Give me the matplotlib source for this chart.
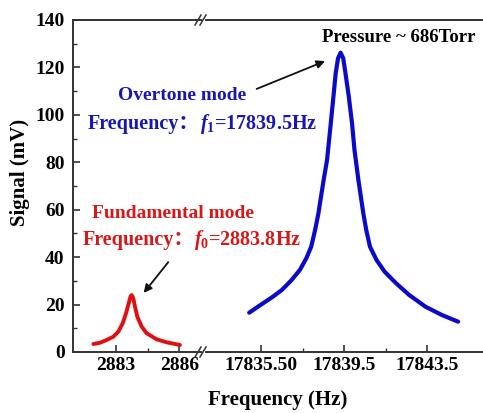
import matplotlib
matplotlib.use("Agg")
import matplotlib.pyplot as plt
from matplotlib.lines import Line2D
from matplotlib.ticker import MultipleLocator, FixedLocator

plt.rcParams['font.family'] = ['Liberation Serif', 'Noto Sans CJK SC']
plt.rcParams['font.weight'] = 'bold'
plt.rcParams['mathtext.fontset'] = 'custom'
plt.rcParams['mathtext.it'] = 'Liberation Serif:italic:bold'
plt.rcParams['mathtext.rm'] = 'Liberation Serif:bold'

# fundamental mode
f_fund = [2881.925, 2882.242, 2882.559, 2882.872, 2883.109, 2883.317,
          2883.474, 2883.602, 2883.696, 2883.744, 2883.820, 2883.900,
          2884.009, 2884.217, 2884.454, 2884.928, 2885.402, 2886.032]
s_fund = [3.37, 3.92, 5.06, 6.45, 8.56, 12.10,
          16.32, 20.54, 23.6, 24.0, 22.6, 19.1,
          14.9, 10.7, 7.9, 5.35, 4.09, 2.95]

# overtone mode
f_over = [17834.935, 17835.406, 17836.032, 17836.502, 17836.973, 17837.368,
          17837.679, 17837.914, 17838.102, 17838.262, 17838.385, 17838.512,
          17838.676, 17838.855, 17838.982, 17839.091, 17839.204, 17839.326,
          17839.453, 17839.561, 17839.721, 17839.876, 17839.994, 17840.182,
          17840.300, 17840.418, 17840.559, 17840.738, 17841.053, 17841.443,
          17841.994, 17842.620, 17843.406, 17844.192, 17844.973]
s_over = [16.57, 19.40, 23.07, 26.14, 30.36, 34.58,
          39.51, 44.40, 51.45, 58.49, 65.49, 72.53,
          80.96, 96.44, 107.66, 117.53, 123.85, 126.21,
          123.85, 117.53, 107.66, 96.44, 85.18, 72.53,
          65.49, 58.49, 51.45, 44.40, 38.80, 33.86,
          28.97, 24.04, 19.10, 15.60, 12.78]

fund_ticks = [2883, 2886]
fund_labels = ['2883', '2886']
over_ticks = [17835.5, 17839.5, 17843.5]
over_labels = ['17835.50', '17839.5', '17843.5']

fig = plt.figure(figsize=(4.83, 4.13), dpi=100)
W, H = 483, 413
bot = 1 - 352 / H
hgt = (352 - 20) / H
ax1 = fig.add_axes([73 / W, bot, (201 - 73) / W, hgt])
ax2 = fig.add_axes([206 / W, bot, (483 - 206) / W + 0.01, hgt])

red = '#e01010'
blue = '#0a0ac8'
tblue = '#1818b0'
tred = '#d81818'
spc = '#333333'

ax1.plot(f_fund, s_fund, color=red, lw=2.8, solid_capstyle='round',
         solid_joinstyle='round')
ax2.plot(f_over, s_over, color=blue, lw=3.0, solid_capstyle='round',
         solid_joinstyle='round')

ax1.set_xlim(2880.96, 2887.03)
ax2.set_xlim(17832.86, 17846.4)
for ax in (ax1, ax2):
    ax.set_ylim(0, 140)
    ax.tick_params(which='both', direction='in', labelsize=14, color=spc)
    ax.tick_params(which='major', length=5, width=1.2)
    ax.tick_params(which='minor', length=3, width=1.0)
    for s in ax.spines.values():
        s.set_linewidth(1.4)
        s.set_color(spc)
    ax.spines['right'].set_visible(False)

ax1.set_xticks(fund_ticks)
ax1.set_xticklabels(fund_labels)
ax1.xaxis.set_minor_locator(FixedLocator([2884.5]))
ax1.yaxis.set_major_locator(MultipleLocator(20))
ax1.yaxis.set_minor_locator(MultipleLocator(10))
ax1.tick_params(axis='y', pad=6)

ax2.set_xticks(over_ticks)
ax2.set_xticklabels(over_labels)
ax2.xaxis.set_minor_locator(FixedLocator([17837.5, 17841.5]))
ax2.spines['left'].set_visible(False)
ax2.tick_params(axis='y', which='both', left=False, labelleft=False)

fig.text(20 / W, 1 - 172 / H, 'Signal (mV)', fontsize=15, fontweight='bold',
         rotation=90, ha='center', va='center')
fig.text(278 / W, 1 - 400 / H, 'Frequency (Hz)', fontsize=15,
         fontweight='bold', ha='center', va='center')

# break marks
for yp in (20, 352):
    for dx in (-4, 1):
        x0 = (199 + dx) / W
        fig.add_artist(Line2D([x0, x0 + 6 / W],
                              [1 - (yp + 5) / H, 1 - (yp - 5) / H],
                              color=spc, lw=1.1))

# labels
fig.text(182 / W, 1 - 95 / H, 'Overtone mode', color=tblue, fontsize=14,
         fontweight='bold', ha='center', va='center')
fig.text(173 / W, 1 - 213 / H, 'Fundamental mode', color=tred, fontsize=14,
         fontweight='bold', ha='center', va='center')
fig.text(399 / W, 1 - 38 / H, 'Pressure ~ 686Torr', color='black',
         fontsize=13.5, fontweight='bold', ha='center', va='center')

renderer = fig.canvas.get_renderer()
for x0, yy, sub, val, col in [(88, 124, '1', '17839.5', tblue),
                              (83, 240, '0', '2883.8', tred)]:
    t1 = fig.text(x0 / W, 1 - yy / H, 'Frequency：', color=col,
                  fontsize=14.5, fontweight='bold', ha='left', va='center')
    ext = t1.get_window_extent(renderer)
    fig.text(ext.x1 / W, 1 - yy / H, '$f_{%s}$=%sHz' % (sub, val), color=col,
             fontsize=14.5, fontweight='bold', ha='left', va='center')

arrow = dict(arrowstyle='-|>', color='#111111', lw=1.3, mutation_scale=12)
ax2.annotate('', xy=(17838.7, 123.1), xytext=(17835.17, 110.5),
             arrowprops=arrow)
ax1.annotate('', xy=(2884.23, 24.0), xytext=(2885.56, 38.8),
             arrowprops=arrow)

fig.savefig('out.png', dpi=100)
